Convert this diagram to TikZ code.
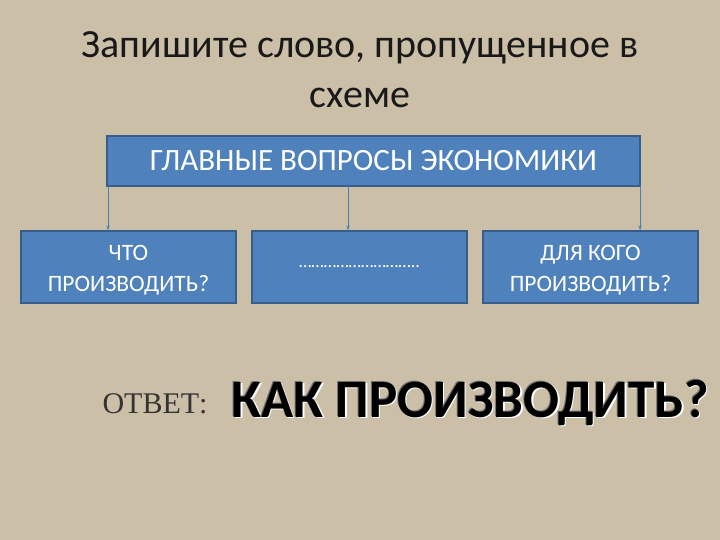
\documentclass[tikz,border=0pt]{standalone}
\usepackage{fontspec}
\setmainfont{Carlito}
\newfontfamily\timesf{Liberation Serif}
\usetikzlibrary{arrows.meta}
\definecolor{bgc}{RGB}{203,191,167}
\definecolor{boxfill}{RGB}{79,129,189}
\definecolor{boxdraw}{RGB}{56,93,138}
\definecolor{arrc}{RGB}{74,126,187}
\newcommand{\twolines}[2]{\raisebox{-9.5pt}[0pt][0pt]{\begin{tabular}{@{}c@{}}#1\\#2\end{tabular}}}
\tikzset{
  bluebox/.style={draw=boxdraw, line width=1.2pt, fill=boxfill, text=white, align=center, inner sep=0pt},
  smallbox/.style={bluebox, minimum width=215pt, minimum height=72pt, font=\fontsize{23.5}{31}\selectfont},
  conn/.style={draw=arrc, line width=0.9pt, -{Stealth[length=5pt,width=3.5pt]}},
  answer/.style={font=\bfseries\fontsize{54}{54}\selectfont, anchor=base west}
}
\begin{document}
\begin{tikzpicture}[x=1pt,y=-1pt]
\fill[bgc] (0,0) rectangle (720,540);
\useasboundingbox (0,0) rectangle (720,540);
\node[font=\fontsize{40}{50}\selectfont, align=center, text=black!90] (title) at (360,70) {Запишите слово, пропущенное в\\схеме};
\node[bluebox, minimum width=533pt, minimum height=50pt, font=\fontsize{31}{34}\selectfont] (top) at (373.5,161) {ГЛАВНЫЕ ВОПРОСЫ ЭКОНОМИКИ};
\node[smallbox] (b1) at (128.5,267) {\twolines{ЧТО}{ПРОИЗВОДИТЬ?}};
\node[smallbox] (b2) at (359.5,267) {\fontsize{18}{18}\selectfont ………………………..};
\node[smallbox] (b3) at (590.5,267) {\twolines{ДЛЯ КОГО}{ПРОИЗВОДИТЬ?}};
\coordinate (s1) at (108,186.5);
\coordinate (s2) at (348,186.5);
\coordinate (s3) at (640,186.5);
\draw[conn] (s1) -- (s1 |- b1.north);
\draw[conn] (s2) -- (s2 |- b2.north);
\draw[conn] (s3) -- (s3 |- b3.north);
\node[font=\timesf\fontsize{30}{30}\selectfont, anchor=base west, text=black!80] (otv) at (99,413) {ОТВЕТ:};
\node[answer, text=white] at (229.5,418.5) {\scalebox{0.985}[1]{КАК ПРОИЗВОДИТЬ?}};
\node[answer, text=black!55] at (227,416.5) {\scalebox{0.985}[1]{КАК ПРОИЗВОДИТЬ?}};
\node[answer, text=black] (ans) at (228,417) {\scalebox{0.985}[1]{КАК ПРОИЗВОДИТЬ?}};
\end{tikzpicture}
\end{document}
